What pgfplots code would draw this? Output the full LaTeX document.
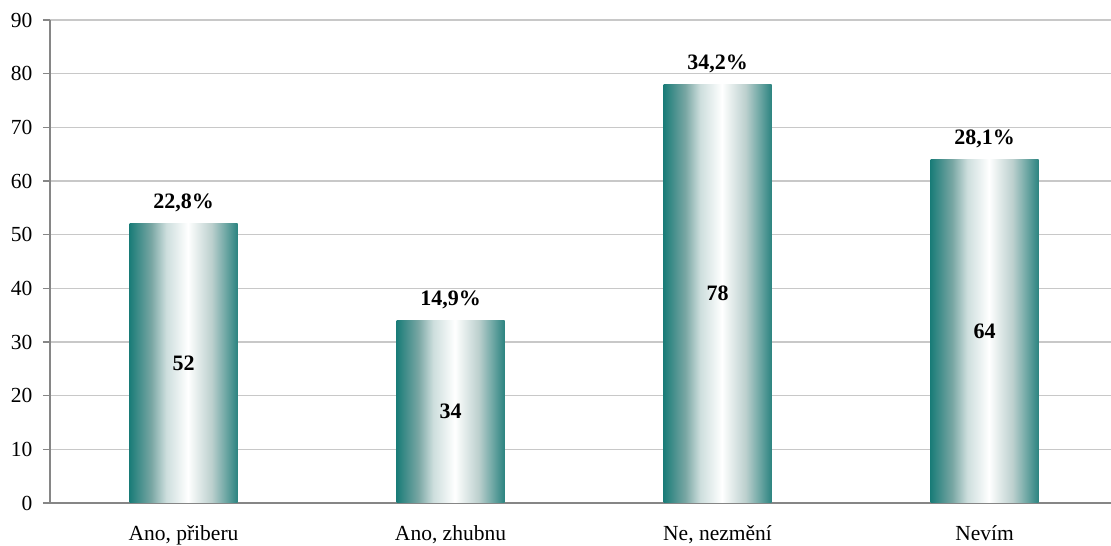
\documentclass[border=0pt]{standalone}
\usepackage{pgfplots}
\pgfplotsset{compat=1.18}
\usepackage{pgfplotstable}
\usepackage{fontspec}
\setmainfont{Liberation Serif}

\definecolor{tealL}{RGB}{26,124,120}
\definecolor{tealA}{RGB}{120,166,163}
\definecolor{tealB}{RGB}{205,222,221}
\definecolor{tealC}{RGB}{188,208,206}
\definecolor{tealR}{RGB}{44,132,128}
\definecolor{gridgray}{RGB}{200,200,200}
\definecolor{axisgray}{RGB}{134,134,134}

% cylinder-like horizontal shading of the bars (path maps to 25bp..75bp)
\pgfdeclarehorizontalshading{barshade}{100bp}{%
  color(0bp)=(tealL); color(25bp)=(tealL); color(35bp)=(tealA);
  color(42bp)=(tealB); color(52bp)=(white); color(63bp)=(tealC);
  color(75bp)=(tealR); color(100bp)=(tealR)}

\pgfplotstableread{
x v   pct
0 52  {22,8\%}
1 34  {14,9\%}
2 78  {34,2\%}
3 64  {28,1\%}
}\answers

\begin{document}
\begin{tikzpicture}
\useasboundingbox (0,0) rectangle (1111pt,546pt);
\begin{axis}[
  at={(50pt,43pt)}, anchor=south west,
  scale only axis, width=1061pt, height=483pt,
  font=\fontsize{21.5}{24}\selectfont,
  /pgf/number format/assume math mode=true,
  xmin=-0.5, xmax=3.4738, ymin=0, ymax=90,
  axis x line*=bottom, axis y line*=left,
  axis line style={draw=axisgray, line width=1.5pt},
  ytick distance=10,
  ymajorgrids, grid style={draw=gridgray, line width=1.5pt},
  ytick style={draw=axisgray, line width=1.5pt},
  tick align=outside, major tick length=7pt,
  yticklabel style={anchor=east, xshift=-7pt},
  xtick={0,1,2,3},
  xticklabels={{Ano, přiberu},{Ano, zhubnu},{Ne, nezmění},{Nevím}},
  xtick style={draw=none},
  xticklabel style={anchor=base, yshift=-30pt},
  extra x ticks={-0.5,0.5,1.5,2.5,3.5},
  extra x tick labels={},
  extra x tick style={major tick length=6pt,
    tick style={draw=axisgray, line width=1.5pt}, grid=none},
  clip=false,
]
% one path per bar so that each bar gets its own shading
\pgfplotsinvokeforeach{0,1,2,3}{
\addplot[ybar, bar width=108pt, draw=none, shading=barshade,
  x filter/.expression={x==#1 ? x : nan},
  point meta=explicit symbolic,
  nodes near coords,
  every node near coord/.style={anchor=center, yshift=21pt,
    font=\fontsize{22}{24}\selectfont\bfseries, text=black}]
  table[x=x, y=v, meta=pct] {\answers};
}
\addplot[draw=none, mark=none,
  point meta=explicit symbolic,
  nodes near coords,
  every node near coord/.style={anchor=center,
    font=\fontsize{22}{24}\selectfont\bfseries, text=black}]
  table[x=x, y expr=\thisrow{v}/2, meta=v] {\answers};
\end{axis}
\end{tikzpicture}
\end{document}
